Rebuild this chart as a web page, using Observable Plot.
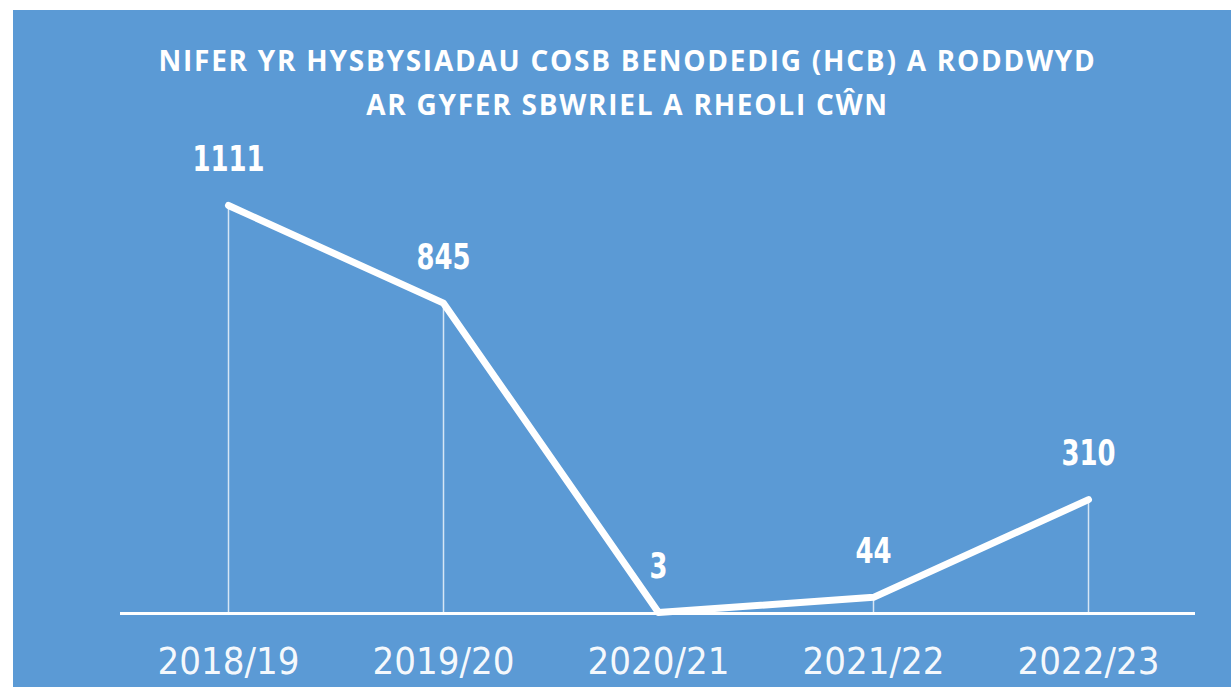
<!DOCTYPE html>
<html><head><meta charset="utf-8">
<script src="https://cdn.jsdelivr.net/npm/d3@7"></script>
<script src="https://cdn.jsdelivr.net/npm/@observablehq/plot@0.6"></script>
<style>
html,body{margin:0;padding:0;background:#fff;}
#panel{position:absolute;left:13px;top:10px;width:1218px;height:677px;background:#5b9ad5;overflow:hidden;}
#title{position:absolute;left:11px;width:1207px;top:28px;text-align:center;color:#fff;font-family:"Open Sans",sans-serif;font-weight:700;font-size:28px;line-height:44px;letter-spacing:1.75px;margin:0;}
#chart{position:absolute;left:0;top:125px;}
</style></head><body>
<div id="panel">
<div id="title">NIFER YR HYSBYSIADAU COSB BENODEDIG (HCB) A RODDWYD<br>AR GYFER SBWRIEL A RHEOLI CŴN</div>
<div id="chart"></div>
</div>
<script>
const years = ["2018/19", "2019/20", "2020/21", "2021/22", "2022/23"];
const values = [1111, 845, 3, 44, 310];

const data = years.map((year, i) => ({year, value: values[i]}));

const chart = Plot.plot({
  width: 1218,
  height: 552,
  marginLeft: 107,
  marginRight: 36,
  marginTop: 70,
  marginBottom: 74,
  style: {background: "transparent", color: "white", overflow: "visible"},
  x: {type: "point", domain: years, padding: 0.5},
  y: {domain: [0, 1111], axis: null},
  marks: [
    Plot.ruleX(data, {x: "year", y1: 0, y2: "value", stroke: "white", strokeWidth: 1.5, strokeOpacity: 0.75}),
    Plot.ruleY([0], {stroke: "white", strokeWidth: 3}),
    Plot.lineY(data, {x: "year", y: "value", stroke: "white", strokeWidth: 7, strokeLinejoin: "round", strokeLinecap: "round"}),
    Plot.text(data, {x: "year", y: "value", text: d => String(d.value), dy: -46, lineAnchor: "middle", fill: "white", fontSize: 36, fontWeight: "bold", fontFamily: "'DejaVu Sans Condensed',sans-serif", className: "vlabel"}),
    Plot.axisX({tickSize: 0, tickPadding: 34, fontSize: 38, fontFamily: "'DejaVu Sans Condensed',sans-serif", fill: "white", fillOpacity: 0.95, label: null})
  ]
});
document.getElementById("chart").appendChild(chart);
// narrow the value labels to mimic the condensed face of the original
d3.select(chart).selectAll("g.vlabel text").each(function() {
  const w = this.getComputedTextLength();
  this.setAttribute("textLength", (w * 0.8).toFixed(1));
  this.setAttribute("lengthAdjust", "spacingAndGlyphs");
});
</script>
</body></html>
